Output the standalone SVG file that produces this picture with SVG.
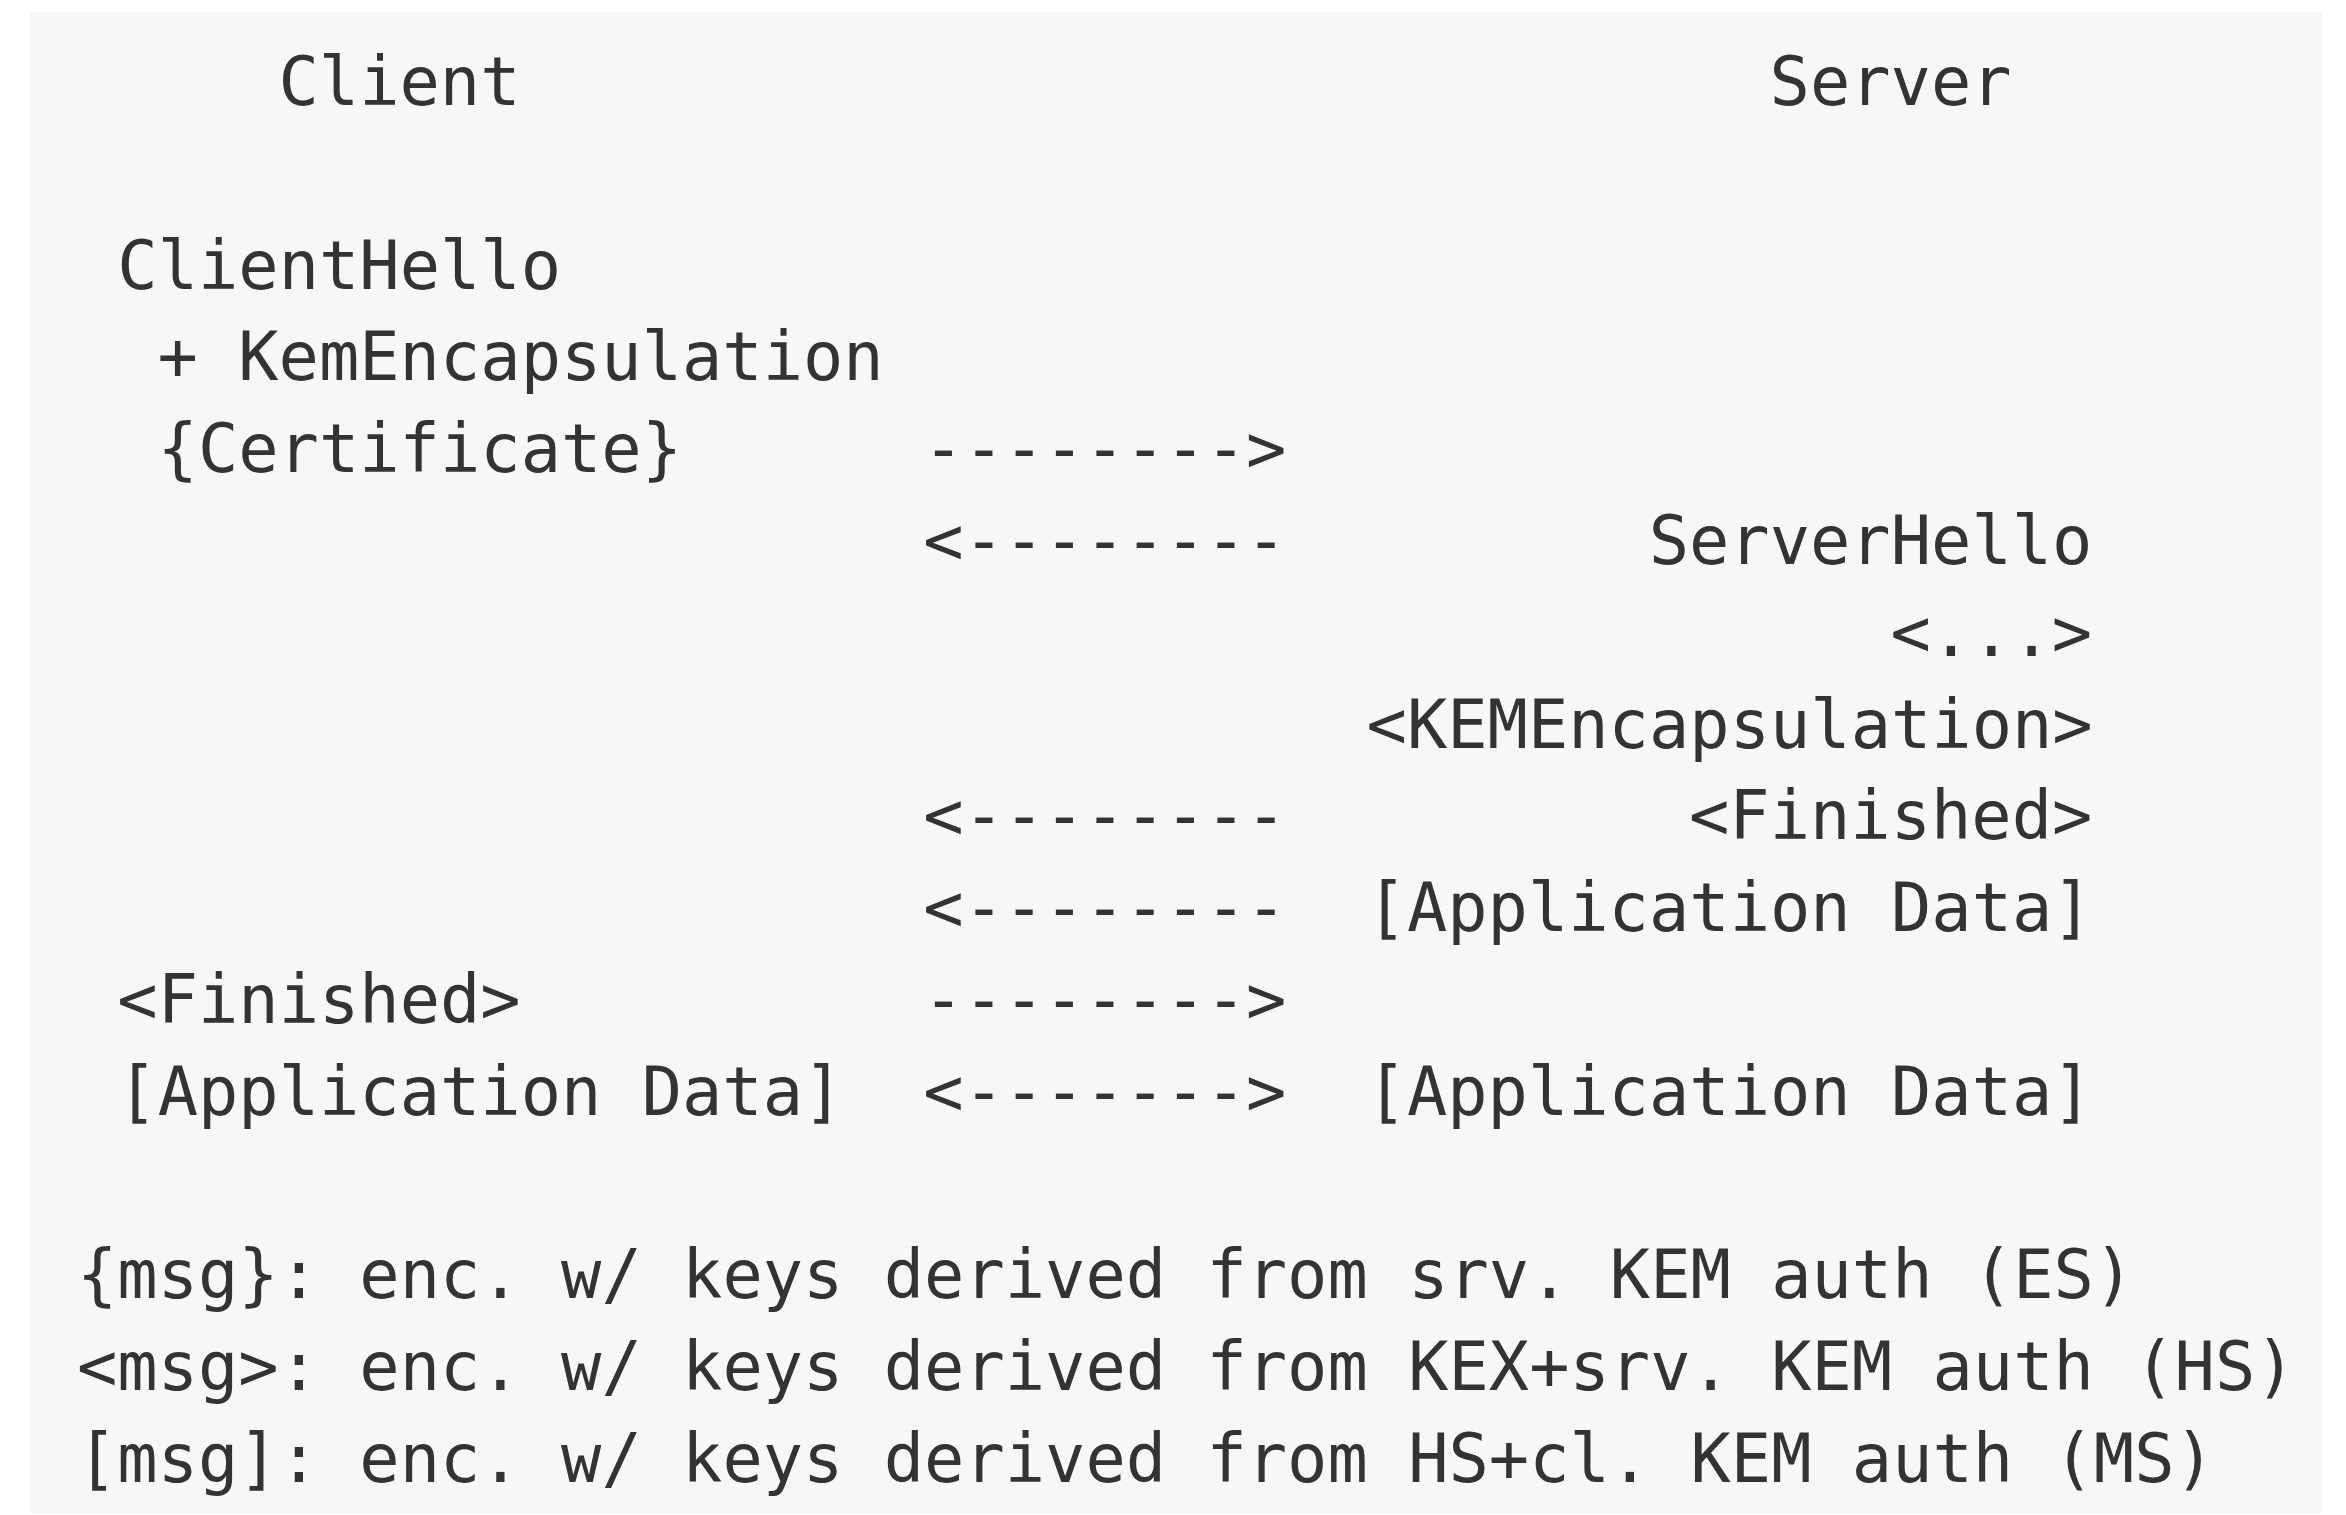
<svg xmlns="http://www.w3.org/2000/svg" width="2346" height="1515" viewBox="0 0 2346 1515">
  <style>
    text { font-family: "DejaVu Sans Mono", "Liberation Mono", monospace; font-size: 67px; fill: #333333; white-space: pre; }
  </style>
  <!-- page and code block background -->
  <rect x="0" y="0" width="2346" height="1515" fill="#ffffff"/>
  <rect x="30" y="12" width="2292" height="1501" fill="#f7f7f7"/>

  <!-- column grid: x = 77 + col * 40.3, baseline = 105 + row * 91.8 -->
  <g id="client-header"><text x="278.5" y="105">Client</text></g>
  <g id="server-header"><text x="1769.6" y="105">Server</text></g>

  <g id="client-flight1">
    <text x="117.3" y="288.6">ClientHello</text>
    <text x="157.6" y="380.4">+ KemEncapsulation</text>
    <text x="157.6" y="472.2">{Certificate}</text>
  </g>

  <g id="server-flight">
    <text x="1648.7" y="564">ServerHello</text>
    <text x="1890.5" y="655.8">&lt;...&gt;</text>
    <text x="1366.6" y="747.6">&lt;KEMEncapsulation&gt;</text>
    <text x="1689" y="839.4">&lt;Finished&gt;</text>
    <text x="1366.6" y="931.2">[Application Data]</text>
  </g>

  <g id="client-flight2">
    <text x="117.3" y="1023">&lt;Finished&gt;</text>
    <text x="117.3" y="1114.8">[Application Data]</text>
  </g>

  <g id="server-appdata">
    <text x="1366.6" y="1114.8">[Application Data]</text>
  </g>

  <g id="connectors">
    <text x="923.3" y="472.2">--------&gt;</text>
    <text x="923.3" y="564">&lt;--------</text>
    <text x="923.3" y="839.4">&lt;--------</text>
    <text x="923.3" y="931.2">&lt;--------</text>
    <text x="923.3" y="1023">--------&gt;</text>
    <text x="923.3" y="1114.8">&lt;-------&gt;</text>
  </g>

  <g id="legend">
    <text x="77" y="1298.4">{msg}: enc. w/ keys derived from srv. KEM auth (ES)</text>
    <text x="77" y="1390.2">&lt;msg&gt;: enc. w/ keys derived from KEX+srv. KEM auth (HS)</text>
    <text x="77" y="1482">[msg]: enc. w/ keys derived from HS+cl. KEM auth (MS)</text>
  </g>
</svg>
